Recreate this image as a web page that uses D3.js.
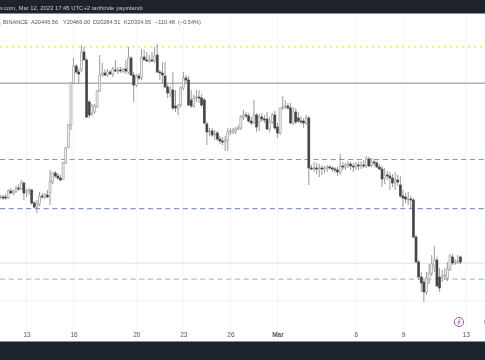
<!DOCTYPE html>
<meta charset="utf-8">
<head>
  <style>
    html, body { margin: 0; padding: 0; background: #fff; }
    svg { display: block; filter: blur(0.35px); }
    text { font-family: "Liberation Sans", sans-serif; }
    .tick text { font-size: 6.5px; fill: #555; }
  </style>
</head>
<body>
  <svg width="485" height="360"></svg>
  <script src="https://d3js.org/d3.v7.min.js"></script>
  <script>
    // 4h BTC candles
    var opens = [21766,21766,21766,21744,21898,21854,21898,21964,21942,22074,
      21854,21898,21920,21634,21546,21612,21788,21766,21810,21854,
      22096,22294,22228,22184,22162,22514,22866,23350,24274,24648,
      24516,24560,24956,24780,23856,23614,23636,23768,24098,24450,
      24494,24450,24516,24472,24560,24538,24560,24538,24582,24516,
      24824,24450,24230,24428,24384,24846,24780,24758,24780,24758,
      24890,24516,24494,24428,24186,24054,24120,23768,23724,23790,
      24164,24384,24340,23900,23768,23944,23966,23944,23900,23372,
      23196,23218,23130,23174,23042,22998,22976,23020,23196,23196,
      23218,23262,23284,23526,23570,23548,23438,23394,23570,23416,
      23526,23482,23482,23262,23416,23570,23306,23174,23724,23746,
      23768,23724,23394,23636,23504,23438,23438,23394,23504,22404,
      22382,22404,22382,22404,22382,22404,22426,22404,22382,22360,
      22316,22448,22426,22470,22492,22448,22426,22470,22448,22470,
      22448,22602,22470,22536,22514,22426,22382,22184,22250,22228,
      22184,22074,22140,22030,21788,21766,21722,21722,21700,20886,
      20336,20006,19896,19676,19940,20094,20248,20380,20006,19984,
      20028,19984,20182,20446,20336,20336,20446];
    var highs = [21810,21810,21832,21942,21964,21920,22008,22052,22140,22118,
      21942,21964,21942,21678,21700,21876,21854,21854,21920,22360,
      22316,22338,22294,22250,22536,22866,23372,24296,24824,24692,
      24604,25110,25066,24824,23900,23812,23812,24120,24890,24714,
      24582,24582,24560,24626,24780,24626,24626,24604,24780,25066,
      24868,24516,24472,24494,25022,25000,24956,24890,24956,25066,
      25132,24560,24736,24736,24252,24208,24516,24120,23812,24208,
      24516,24450,24428,24120,24010,24120,24120,24032,23944,23416,
      23284,23284,23240,23218,23108,23086,23108,23284,23284,23284,
      23306,23350,23570,23680,23636,23614,23526,23900,23614,23592,
      23614,23570,23636,23526,23614,23658,23394,23724,23988,23900,
      23834,23834,23746,23724,23636,23548,23504,23570,23548,22470,
      22536,22514,22492,22470,22448,22470,22470,22448,22426,22426,
      22712,22536,22514,22558,22536,22514,22536,22536,22558,22580,
      22668,22646,22624,22602,22558,22492,22448,22404,22338,22316,
      22272,22316,22250,22228,21920,21854,21876,21788,21744,20930,
      20380,20116,19984,20116,20292,20490,20688,20446,20204,20160,
      20204,20336,20512,20512,20402,20490,20466];
    var lows = [21722,21700,21700,21722,21832,21810,21854,21898,21920,21700,
      21766,21810,21590,21524,21414,21568,21722,21722,21744,21590,
      22052,22184,22140,22118,22140,22492,22844,23240,24252,24472,
      24252,24516,24780,23504,23504,23548,23592,23724,24076,24406,
      24428,24406,24450,24406,24516,24472,24494,24494,24472,24472,
      24428,23856,24186,24340,24340,24780,24736,24714,24736,24714,
      24494,24340,24274,24164,23944,23966,23680,23636,23570,23746,
      24120,24252,23768,23724,23724,23856,23834,23746,23372,22910,
      23108,23086,23020,22998,22932,22910,22778,22778,23130,23152,
      23152,23240,23240,23460,23504,23394,23350,23372,23196,23218,
      23416,23394,23240,23196,23372,23240,23064,23130,23680,23702,
      23680,23372,23350,23372,23394,23372,23284,23350,22030,22360,
      22316,22272,22206,22250,22294,22316,22360,22316,22294,22228,
      22250,22360,22360,22404,22360,22316,22360,22360,22382,22404,
      22404,22426,22426,22448,22404,22360,21986,22052,22140,21920,
      21986,21920,22008,21744,21546,21634,21590,21524,20864,20314,
      19940,19676,19456,19610,19852,20028,20116,19786,19676,19896,
      19940,19918,20138,20270,20270,20292,20285];
    var closes = [21766,21744,21744,21898,21854,21898,21964,21942,22074,21854,
      21898,21920,21634,21546,21612,21788,21766,21810,21766,22096,
      22294,22228,22184,22140,22514,22844,23350,24274,24648,24516,
      24472,24956,24780,23526,23570,23768,23768,24098,24450,24494,
      24450,24516,24472,24582,24538,24560,24538,24582,24538,24824,
      24450,24230,24428,24384,24846,24780,24758,24802,24758,24868,
      24516,24494,24450,24186,24054,24120,23724,23724,23790,24164,
      24384,24340,23790,23768,23944,23966,23944,23790,23394,23196,
      23218,23130,23152,23042,22998,22976,23020,23196,23218,23240,
      23262,23284,23526,23570,23548,23438,23394,23570,23306,23526,
      23482,23460,23262,23416,23570,23284,23174,23724,23746,23768,
      23724,23394,23636,23416,23438,23416,23394,23504,22404,22382,
      22404,22382,22404,22382,22404,22426,22404,22382,22360,22316,
      22448,22426,22470,22492,22448,22426,22470,22448,22470,22448,
      22602,22448,22536,22514,22426,22382,22162,22250,22228,22184,
      22074,22140,22096,21788,21744,21722,21722,21700,20886,20336,
      20006,19874,19676,19984,20094,20292,20380,19808,19764,20028,
      20050,20182,20468,20314,20336,20358,20335];

    var tickDays = ["2023-02-13","2023-02-16","2023-02-20","2023-02-23","2023-02-26","2023-03-01","2023-03-06","2023-03-09","2023-03-13"];
    var tickLabels = ["13","16","20","23","26","Mar","6","9","13"];
    var headerFields = [", BINANCE", "A20445.56", "Y20466.00", "D20284.51", "K20334.95", "−110.48", "(−0.54%)"];
    var headerX = [0, 31, 63, 93, 124, 155, 178];
    var dashedLevels = [22590, 21510, 19960];
    var solidLevel = 24270;
    var dottedLevel = 25070;
    var gridLevels = [20310, 19480];

    var firstCandle = Date.UTC(2023, 1, 11, 8);
    var fourHours = 4 * 3600 * 1000;

    var svg = d3.select("svg");

    var x = d3.scaleUtc()
      .domain([new Date("2023-02-13"), new Date("2023-03-13")])
      .range([26.5, 465.7]);
    var y = d3.scaleLinear().domain([18180, 26100]).range([360, 0]);

    var candles = closes.map(function(c, i) {
      return {t: new Date(firstCandle + i * fourHours), o: opens[i], h: highs[i], l: lows[i], c: c};
    });

    // vertical + horizontal grid, very faint
    svg.append("g").selectAll("line")
      .data(tickDays)
      .enter().append("line")
      .attr("x1", d => x(new Date(d)))
      .attr("x2", d => x(new Date(d)))
      .attr("y1", 14)
      .attr("y2", 342)
      .attr("stroke", "#f5f6f9");

    svg.append("g").selectAll("line")
      .data(gridLevels)
      .enter().append("line")
      .attr("x1", 0)
      .attr("x2", 485)
      .attr("y1", d => y(d))
      .attr("y2", d => y(d))
      .attr("stroke", (d, i) => i == 0 ? "#dfe0e2" : "#f3f3f5");

    // drawn levels
    var levels = svg.append("g");
    levels.selectAll(".dash")
      .data(dashedLevels)
      .enter().append("line")
      .attr("class", "dash")
      .attr("x1", 0)
      .attr("x2", 485)
      .attr("y1", d => y(d))
      .attr("y2", d => y(d))
      .attr("stroke", (d, i) => i == 2 ? "#a9bbee" : "#8497cc")
      .attr("stroke-width", 1.1)
      .attr("stroke-dasharray", "5.2,3.5");
    levels.append("line")
      .attr("x1", 0).attr("x2", 485)
      .attr("y1", y(solidLevel)).attr("y2", y(solidLevel))
      .attr("stroke", "#8b8b8b");
    levels.append("line")
      .attr("x1", 0).attr("x2", 485)
      .attr("y1", y(dottedLevel)).attr("y2", y(dottedLevel))
      .attr("stroke", "#f9ec6c")
      .attr("stroke-width", 2)
      .attr("stroke-dasharray", "2.2,3.8");

    // candles
    var marks = svg.append("g").attr("class", "marks");
    marks.selectAll(".wick")
      .data(candles)
      .enter().append("line")
      .attr("class", "wick")
      .attr("x1", d => x(d.t))
      .attr("x2", d => x(d.t))
      .attr("y1", d => y(d.h))
      .attr("y2", d => y(d.l))
      .attr("stroke", "#808080")
      .attr("stroke-width", 0.8);
    marks.selectAll(".body")
      .data(candles)
      .enter().append("rect")
      .attr("class", "body")
      .attr("x", d => x(d.t) - 1)
      .attr("width", 2)
      .attr("y", d => y(Math.max(d.o, d.c)))
      .attr("height", d => Math.max(0.8, Math.abs(y(d.o) - y(d.c))))
      .attr("fill", d => d.c >= d.o ? "#f2f2f2" : "#444")
      .attr("stroke", d => d.c >= d.o ? "#969696" : "#444")
      .attr("stroke-width", 0.6);

    // top and bottom bars of the snapshot
    svg.append("rect").attr("x", 0).attr("y", 0).attr("width", 485).attr("height", 13).attr("fill", "#1e222d");
    svg.append("rect").attr("x", 0).attr("y", 342).attr("width", 485).attr("height", 18).attr("fill", "#1e222d");
    svg.append("line").attr("x1", 0).attr("x2", 485).attr("y1", 13.5).attr("y2", 13.5).attr("stroke", "#8a8d94");
    svg.append("line").attr("x1", 0).attr("x2", 485).attr("y1", 341.5).attr("y2", 341.5).attr("stroke", "#8a8d94");

    svg.append("text")
      .attr("x", 0).attr("y", 10)
      .attr("font-size", 5.9)
      .attr("fill", "#c8cad0")
      .text("v.com, Mar 12, 2023 17:45 UTC+2 tarihinde yayınlandı");
    svg.append("g").selectAll("text")
      .data(headerFields)
      .enter().append("text")
      .attr("x", (d, i) => headerX[i])
      .attr("y", 23.5)
      .attr("font-size", 5.6)
      .attr("fill", "#555")
      .text(d => d);

    // time axis
    var xAxis = d3.axisBottom(x)
      .tickValues(tickDays.map(d => new Date(d)))
      .tickFormat((d, i) => tickLabels[i])
      .tickSize(0)
      .tickPadding(0);
    var axis = svg.append("g")
      .attr("class", "axis")
      .attr("transform", "translate(0,332.5)")
      .call(xAxis);
    axis.select(".domain").remove();
    axis.selectAll(".tick text").filter((d, i) => tickLabels[i] == "Mar").style("font-weight", "bold");

    // idea marker
    var flash = svg.append("g").attr("transform", "translate(459,322)");
    flash.append("circle").attr("r", 4.6).attr("fill", "#fff").attr("stroke", "#a855c0").attr("stroke-width", 1);
    flash.append("path").attr("d", d3.line()([[1, -3], [-1.2, 0.4], [1.2, -0.4], [-1, 3]])).attr("fill", "none").attr("stroke", "#a855c0").attr("stroke-width", 0.8);
    svg.append("circle").attr("cx", 489).attr("cy", 322).attr("r", 4.6).attr("fill", "none").attr("stroke", "#f2a0a0");
  </script>
</body>
</html>
